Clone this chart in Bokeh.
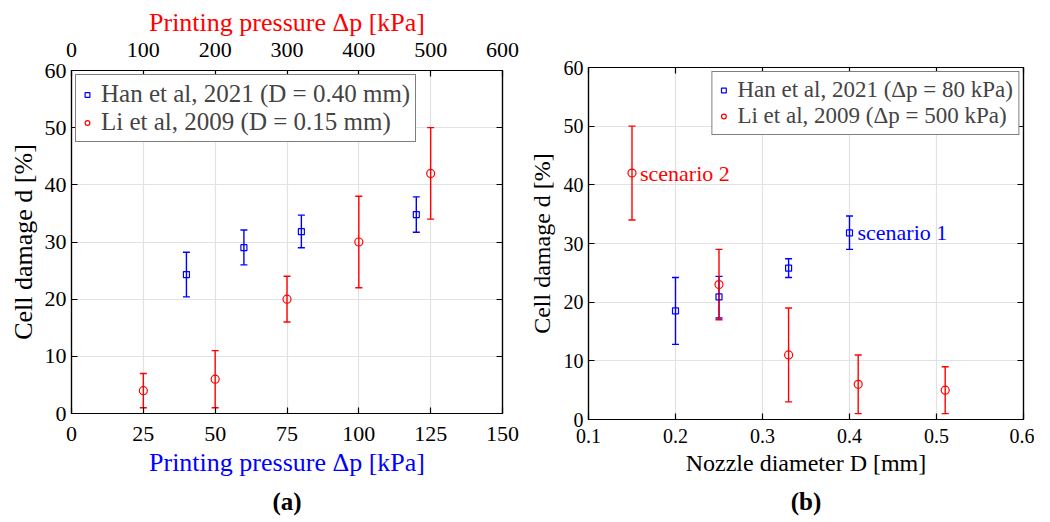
from bokeh.plotting import figure
from bokeh.models import (Range1d, LinearAxis, FixedTicker, Whisker, TeeHead,
                          ColumnDataSource, Legend, LegendItem, Title)
from bokeh.embed import file_html
from bokeh.resources import INLINE
from bokeh.core.properties import value

# ---------------- data ----------------
# Panel (a): cell damage vs printing pressure
han_a_dp = [40, 60, 80, 120]
han_a_d = [24.3, 29.0, 31.8, 34.8]
han_a_lo = [20.4, 26.0, 29.0, 31.7]
han_a_hi = [28.2, 32.1, 34.7, 37.9]

li_a_dp = [100, 200, 300, 400, 500]
li_a_d = [4, 6, 20, 30, 42]
li_a_lo = [1, 1, 16, 22, 34]
li_a_hi = [7, 11, 24, 38, 50]

# Panel (b): cell damage vs nozzle diameter
han_b_D = [0.20, 0.25, 0.33, 0.40]
han_b_d = [18.5, 20.9, 25.8, 31.8]
han_b_lo = [12.8, 17.3, 24.2, 29.0]
han_b_hi = [24.2, 24.4, 27.4, 34.7]

li_b_D = [0.15, 0.25, 0.33, 0.41, 0.51]
li_b_d = [42, 23, 11, 6, 5]
li_b_lo = [34, 17, 3, 1, 1]
li_b_hi = [50, 29, 19, 11, 9]

# annotations (b)
ann_x = [0.15, 0.40]
ann_y = [42, 31.8]
ann_text = ["scenario 2", "scenario 1"]
ann_color = ["#ff0000", "#0000ff"]

# ticks
a_bottom_ticks = [0, 25, 50, 75, 100, 125, 150]
a_top_ticks = [0, 100, 200, 300, 400, 500, 600]
y_ticks = [0, 10, 20, 30, 40, 50, 60]
b_x_ticks = [0.1, 0.2, 0.3, 0.4, 0.5, 0.6]
b_x_labels = ["0.1", "0.2", "0.3", "0.4", "0.5", "0.6"]

# texts
labels_a = ["Han et al, 2021 (D = 0.40 mm)", "Li et al, 2009 (D = 0.15 mm)"]
labels_b = ["Han et al, 2021 (\u0394p = 80 kPa)", "Li et al, 2009 (\u0394p = 500 kPa)"]
xlabel_a = "Printing pressure \u0394p [kPa]"
xlabel_b = "Nozzle diameter D [mm]"
ylabel = "Cell damage d [%]"

BLUE = "#0000ff"
RED = "#ff0000"
FONT = "Liberation Serif"


def style_axis(ax, tick_fs, standoff):
    ax.major_tick_in = 6
    ax.major_tick_out = 0
    ax.minor_tick_line_color = None
    ax.axis_line_color = "black"
    ax.axis_line_width = 1.2
    ax.major_tick_line_color = "black"
    ax.major_tick_line_width = 1.2
    ax.major_label_text_font = FONT
    ax.major_label_text_font_size = tick_fs
    ax.major_label_text_color = "black"
    ax.major_label_standoff = standoff


def blank_axis(ticks):
    ax = LinearAxis(ticker=FixedTicker(ticks=ticks),
                    major_label_overrides={t: "" for t in ticks})
    style_axis(ax, "1px", 0)
    return ax


def label(text, fs, color="black", bold=False, standoff=6):
    return Title(text=text, align="center", text_font=FONT, text_font_size=fs,
                 text_font_style="bold" if bold else "normal", text_color=color,
                 standoff=standoff)


def make_fig(x_range, w, h, ml, mt, mr, mb):
    p = figure(x_range=x_range, y_range=Range1d(0, 60), width=w, height=h,
               min_border_left=ml, min_border_top=mt, min_border_right=mr,
               min_border_bottom=mb, output_backend="svg", toolbar_location=None,
               x_axis_location=None, y_axis_location=None)
    p.outline_line_color = "black"
    p.outline_line_width = 1.2
    p.background_fill_color = "white"
    p.border_fill_color = "white"
    return p


def add_errbars(p, xs, ys, lo, hi, color, marker, size, **kw):
    src = ColumnDataSource(dict(x=xs, y=ys, lo=lo, hi=hi))
    w = Whisker(base="x", upper="hi", lower="lo", source=src, dimension="height",
                line_color=color, line_width=1.4,
                upper_head=TeeHead(size=7, line_color=color, line_width=1.4),
                lower_head=TeeHead(size=7, line_color=color, line_width=1.4), **kw)
    p.add_layout(w)
    r = p.scatter(x="x", y="y", source=src, marker=marker, size=size,
                  line_color=color, fill_color=None, line_width=1.2, **kw)
    return r


def setup_y(p, tick_fs, lab_fs, title_standoff):
    yax = LinearAxis(ticker=FixedTicker(ticks=y_ticks))
    style_axis(yax, tick_fs, 5)
    p.add_layout(yax, "left")
    p.add_layout(label(ylabel, lab_fs, standoff=title_standoff), "left")
    p.add_layout(blank_axis(y_ticks), "right")
    p.ygrid.ticker = FixedTicker(ticks=y_ticks)


# ---------------- panel (a) ----------------
pa = make_fig(Range1d(0, 150), 520, 522, 71, 70, 18, 109)
pa.extra_x_ranges = {"top": Range1d(0, 600)}

xb = LinearAxis(ticker=FixedTicker(ticks=a_bottom_ticks))
style_axis(xb, "22px", 13)
pa.add_layout(xb, "below")
pa.add_layout(label(xlabel_a, "26px", BLUE, standoff=4), "below")
pa.add_layout(label("(a)", "25px", bold=True, standoff=15), "below")

xt = LinearAxis(ticker=FixedTicker(ticks=a_top_ticks), x_range_name="top")
style_axis(xt, "22px", 14)
pa.add_layout(xt, "above")
pa.add_layout(label(xlabel_a, "26px", RED, standoff=5), "above")
setup_y(pa, "22px", "26px", 7)
pa.xgrid.ticker = FixedTicker(ticks=a_bottom_ticks)

r_han_a = add_errbars(pa, han_a_dp, han_a_d, han_a_lo, han_a_hi, BLUE, "square", 6)
r_li_a = add_errbars(pa, li_a_dp, li_a_d, li_a_lo, li_a_hi, RED, "circle", 8,
                     x_range_name="top")

leg_a = Legend(items=[LegendItem(label=labels_a[0], renderers=[r_han_a]),
                      LegendItem(label=labels_a[1], renderers=[r_li_a])],
               location="top_left")
leg_a.label_text_font_size = "25px"
leg_a.label_height = 25
leg_a.glyph_height = 25
leg_a.margin = 4
pa.add_layout(leg_a)

# ---------------- panel (b) ----------------
pb = make_fig(Range1d(0.1, 0.6), 514, 522, 68, 67, 11, 103)
xbb = LinearAxis(ticker=FixedTicker(ticks=b_x_ticks),
                 major_label_overrides=dict(zip(b_x_ticks, b_x_labels)))
style_axis(xbb, "20px", 9)
pb.add_layout(xbb, "below")
pb.add_layout(label(xlabel_b, "24px", standoff=5), "below")
pb.add_layout(label("(b)", "25px", bold=True, standoff=15), "below")
pb.add_layout(blank_axis(b_x_ticks), "above")
setup_y(pb, "20px", "24px", 11)
pb.xgrid.ticker = FixedTicker(ticks=b_x_ticks)

r_han_b = add_errbars(pb, han_b_D, han_b_d, han_b_lo, han_b_hi, BLUE, "square", 6)
r_li_b = add_errbars(pb, li_b_D, li_b_d, li_b_lo, li_b_hi, RED, "circle", 8)

pb.text(x=ann_x, y=ann_y, text=ann_text, text_color=ann_color, x_offset=8,
        text_baseline="middle", text_align="left", text_font=value(FONT),
        text_font_size="22px")

leg_b = Legend(items=[LegendItem(label=labels_b[0], renderers=[r_han_b]),
                      LegendItem(label=labels_b[1], renderers=[r_li_b])],
               location="top_right")
leg_b.label_text_font_size = "23px"
leg_b.label_height = 22
leg_b.glyph_height = 22
leg_b.margin = 4
pb.add_layout(leg_b)

for p in (pa, pb):
    for g in (p.xgrid, p.ygrid):
        g.grid_line_color = "#e2e2e2"
        g.grid_line_width = 1.2

for leg in (leg_a, leg_b):
    leg.label_text_font = FONT
    leg.border_line_color = "black"
    leg.border_line_width = 1.2
    leg.background_fill_color = "white"
    leg.background_fill_alpha = 1.0
    leg.glyph_width = 12
    leg.label_standoff = 8
    leg.spacing = 0
    leg.padding = 5

# two independent roots laid out side by side (no frame alignment between panels)
TEMPLATE = """
{% block contents %}
<div style="display:flex; flex-direction:row; align-items:flex-start;">
{% for doc in docs %}{% for root in doc.roots %}{{ embed(root) }}{% endfor %}{% endfor %}
</div>
{% endblock %}
"""

open("out.html", "w").write(file_html([pa, pb], INLINE, template=TEMPLATE))
